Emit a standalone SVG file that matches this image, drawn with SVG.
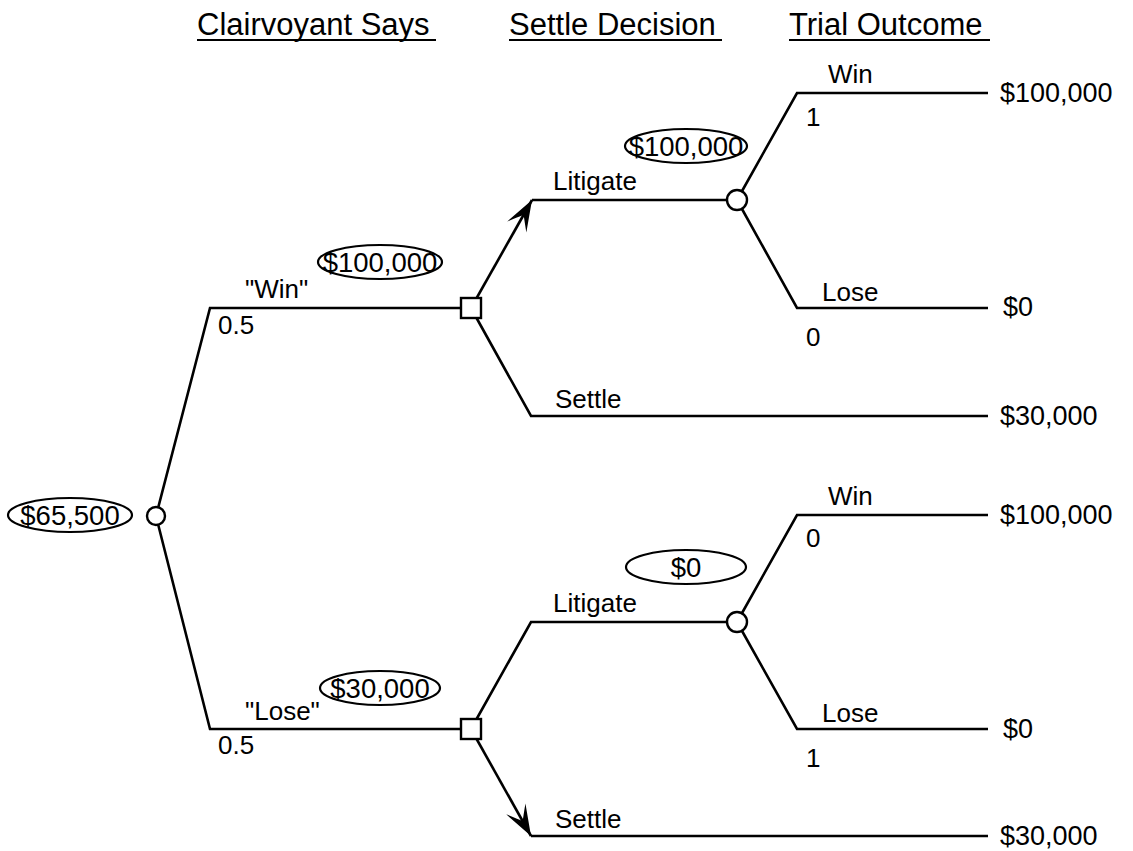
<svg xmlns="http://www.w3.org/2000/svg" width="1133" height="851" viewBox="0 0 1133 851">
<style>
text{font-family:"Liberation Sans",Arial,sans-serif;font-size:26px;fill:#000}
.hdr{font-size:31px}
.ul{stroke:#000;stroke-width:1.8}
.br{fill:none;stroke:#000;stroke-width:2.6;stroke-linejoin:miter}
.chance{fill:#fff;stroke:#000;stroke-width:2.4}
.dec{fill:#fff;stroke:#000;stroke-width:2.4}
.val{fill:none;stroke:#000;stroke-width:2.2}
.v{font-size:27.5px}
.p{font-size:27px}
</style>
<defs>
<marker id="arr" markerUnits="userSpaceOnUse" viewBox="-34 -14 38 28" refX="0" refY="0" markerWidth="38" markerHeight="28" orient="auto">
<path d="M0,0 L-31,-11 Q-21,-3 -17,0 Q-21,3 -31,11 Z" fill="#000"/>
</marker>
</defs>
<g id="headers">
<text class="hdr" x="197" y="35">Clairvoyant Says</text>
<line class="ul" x1="197" y1="40" x2="436" y2="40"/>
<text class="hdr" x="509" y="35">Settle Decision</text>
<line class="ul" x1="509" y1="40" x2="722" y2="40"/>
<text class="hdr" x="789" y="35">Trial Outcome</text>
<line class="ul" x1="789" y1="40" x2="990" y2="40"/>
</g>
<g id="connectors">
<polyline class="br" points="156,516 210,308 461,308"/>
<polyline class="br" points="156,516 210,729 461,729"/>
<line class="br" x1="471" y1="308" x2="532" y2="200" marker-end="url(#arr)"/>
<line class="br" x1="532" y1="200" x2="727" y2="200"/>
<polyline class="br" points="471,308 531,416 988,416"/>
<polyline class="br" points="737,200 797,93 988,93"/>
<polyline class="br" points="737,200 797,308 988,308"/>
<polyline class="br" points="471,729 531,622 727,622"/>
<line class="br" x1="471" y1="729" x2="531" y2="836" marker-end="url(#arr)"/>
<line class="br" x1="531" y1="836" x2="988" y2="836"/>
<polyline class="br" points="737,622 797,515 988,515"/>
<polyline class="br" points="737,622 797,729 988,729"/>
</g>
<g id="root">
<ellipse class="val" cx="70" cy="515" rx="62" ry="17"/>
<text class="v" x="70" y="525" text-anchor="middle">$65,500</text>
<circle class="chance" cx="156" cy="516" r="9"/>
</g>
<g id="says-win">
<text x="245" y="298">"Win"</text>
<text x="218" y="334">0.5</text>
<ellipse class="val" cx="380" cy="262" rx="62" ry="17"/>
<text class="v" x="380" y="272" text-anchor="middle">$100,000</text>
</g>
<g id="says-lose">
<text x="245" y="720">"Lose"</text>
<text x="218" y="754">0.5</text>
<ellipse class="val" cx="380" cy="688" rx="60" ry="17"/>
<text class="v" x="380" y="698" text-anchor="middle">$30,000</text>
</g>
<g id="decision-win">
<rect class="dec" x="461" y="298" width="20" height="20"/>
<text x="553" y="190">Litigate</text>
<text x="555" y="408">Settle</text>
</g>
<g id="decision-lose">
<rect class="dec" x="461" y="719" width="20" height="20"/>
<text x="553" y="612">Litigate</text>
<text x="555" y="828">Settle</text>
</g>
<g id="trial-win">
<ellipse class="val" cx="686" cy="146" rx="61" ry="17"/>
<text class="v" x="686" y="156" text-anchor="middle">$100,000</text>
<circle class="chance" cx="737" cy="200" r="10"/>
<text x="828" y="83">Win</text>
<text x="806" y="126">1</text>
<text x="822" y="301">Lose</text>
<text x="806" y="346">0</text>
</g>
<g id="trial-lose">
<ellipse class="val" cx="686" cy="567" rx="60" ry="17"/>
<text class="v" x="686" y="577" text-anchor="middle">$0</text>
<circle class="chance" cx="737" cy="622" r="10"/>
<text x="828" y="505">Win</text>
<text x="806" y="547">0</text>
<text x="822" y="722">Lose</text>
<text x="806" y="767">1</text>
</g>
<g id="payoffs">
<text class="p" x="1000" y="102">$100,000</text>
<text class="p" x="1003" y="316">$0</text>
<text class="p" x="1000" y="425">$30,000</text>
<text class="p" x="1000" y="524">$100,000</text>
<text class="p" x="1003" y="738">$0</text>
<text class="p" x="1000" y="845">$30,000</text>
</g>
</svg>
